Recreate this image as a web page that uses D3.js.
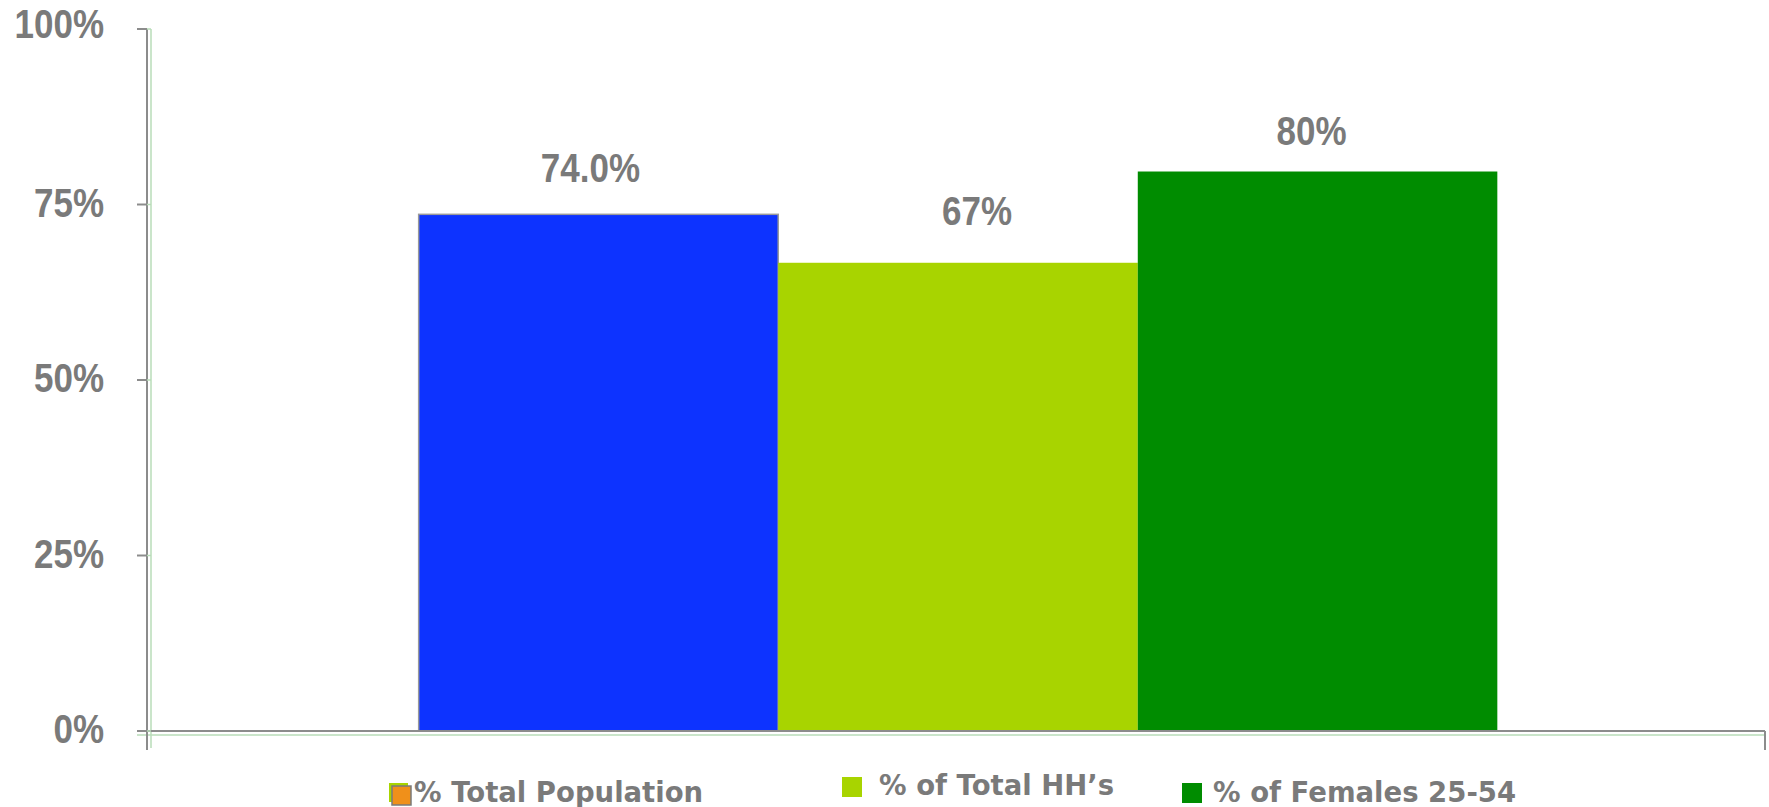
<!DOCTYPE html>
<html>
<head>
<meta charset="utf-8">
<script src="https://cdn.jsdelivr.net/npm/d3@7"></script>
<style>
  body { margin: 0; background: #fff; }
  .tick-label, .value-label { font-family: "Liberation Sans", Arial, sans-serif; font-weight: bold; fill: #7a7a7a; }
  .legend text { font-family: "DejaVu Sans", Verdana, sans-serif; font-weight: bold; fill: #7a7a7a; font-size: 27.5px; }
</style>
</head>
<body>
<svg width="1769" height="807"></svg>
<script>
const category = "All";
const seriesNames = ["% Total Population", "% of Total HH\u2019s", "% of Females 25-54"];
const seriesValues = [0.736, 0.667, 0.797];
const valueLabels = ["74.0%", "67%", "80%"];
const seriesColors = ["#0d33ff", "#a8d400", "#008c00"];
const yTicks = [0, 0.25, 0.5, 0.75, 1];

const svg = d3.select("svg");
const margin = { top: 29, left: 147, right: 4, bottom: 76 };
const W = +svg.attr("width"), H = +svg.attr("height");
const axisGray = "#8c8c8c";
const axisGreen = "#b9dcb9";
const stretch = 1.15;

// labels in the original sit a little off the bar centres
const labelNudge = [[-8, 0], [19, -6], [-6, 5]];

const y = d3.scaleLinear()
  .domain([0, 1])
  .range([H - margin.bottom, margin.top]);

const x0 = d3.scaleBand()
  .domain([category])
  .range([margin.left + 2, W - margin.right + 2])
  .paddingOuter(0.25);

const x1 = d3.scaleBand()
  .domain(seriesNames)
  .range([0, x0.bandwidth()]);

const data = seriesNames.map((name, i) => ({ name, value: seriesValues[i], label: valueLabels[i], color: seriesColors[i] }));

// bars
const bars = svg.append("g")
  .attr("transform", `translate(${x0(category)},0)`);

bars.selectAll("rect")
  .data(data)
  .enter().append("rect")
    .attr("x", d => x1(d.name))
    .attr("y", d => y(d.value))
    .attr("width", x1.bandwidth())
    .attr("height", d => y(0) - y(d.value))
    .attr("fill", d => d.color)
    .attr("stroke", (d, i) => i === 0 ? "#9a9a9a" : "none")
    .attr("stroke-width", 1.5);

bars.selectAll("g.value")
  .data(data)
  .enter().append("g")
    .attr("class", "value")
    .attr("transform", (d, i) => `translate(${x1(d.name) + x1.bandwidth() / 2 + labelNudge[i][0]},${y(d.value) - 32 + labelNudge[i][1]})`)
  .append("text")
    .attr("class", "value-label")
    .attr("text-anchor", "middle")
    .attr("font-size", 35)
    .attr("transform", `scale(1,${stretch})`)
    .text(d => d.label);

// axes
const x0px = margin.left;
const xEnd = W - margin.right;
const bottom = y(0);

const axes = svg.append("g");
// green shadow lines
axes.append("line")
  .attr("x1", x0px + 4).attr("x2", x0px + 4)
  .attr("y1", y(1)).attr("y2", bottom + 17)
  .attr("stroke", axisGreen).attr("stroke-width", 1.5);
axes.append("line")
  .attr("x1", x0px - 10).attr("x2", xEnd)
  .attr("y1", bottom + 4).attr("y2", bottom + 4)
  .attr("stroke", axisGreen).attr("stroke-width", 1.5);
// gray axis lines
axes.append("line")
  .attr("x1", x0px).attr("x2", x0px)
  .attr("y1", y(1)).attr("y2", bottom + 19)
  .attr("stroke", axisGray).attr("stroke-width", 2);
axes.append("line")
  .attr("x1", x0px - 10).attr("x2", xEnd)
  .attr("y1", bottom).attr("y2", bottom)
  .attr("stroke", axisGray).attr("stroke-width", 2);
axes.append("line")
  .attr("x1", xEnd).attr("x2", xEnd)
  .attr("y1", bottom).attr("y2", bottom + 19)
  .attr("stroke", axisGray).attr("stroke-width", 2);

const tick = axes.selectAll("g.tick")
  .data(yTicks)
  .enter().append("g")
    .attr("class", "tick")
    .attr("transform", d => `translate(0,${y(d)})`);

tick.append("line")
  .attr("x1", x0px - 10).attr("x2", x0px)
  .attr("stroke", axisGray).attr("stroke-width", 2);
tick.append("line")
  .attr("x1", x0px).attr("x2", x0px + 4)
  .attr("stroke", axisGreen).attr("stroke-width", 1.5);

tick.append("g")
    .attr("transform", d => `translate(104,${d === 1 ? 9 : 12})`)
  .append("text")
    .attr("class", "tick-label")
    .attr("text-anchor", "end")
    .attr("font-size", 35)
    .attr("transform", `scale(1,${stretch})`)
    .text(d => d3.format(".0%")(d));

// legend
const legend = svg.append("g").attr("class", "legend");
const legendPos = [
  { sx: 392, sy: 786, tx: 414, ty: 802 },
  { sx: 842, sy: 777, tx: 879, ty: 795 },
  { sx: 1182, sy: 783, tx: 1213, ty: 802 }
];

// first swatch is the odd orange box over a green square
legend.append("rect")
  .attr("x", legendPos[0].sx - 3).attr("y", legendPos[0].sy - 3)
  .attr("width", 19).attr("height", 19)
  .attr("fill", "#a8d400");
legend.append("rect")
  .attr("x", legendPos[0].sx).attr("y", legendPos[0].sy)
  .attr("width", 19).attr("height", 19)
  .attr("fill", "#f0901a").attr("stroke", "#7a7a7a").attr("stroke-width", 1.5);

data.forEach((d, i) => {
  const p = legendPos[i];
  if (i > 0) {
    legend.append("rect")
      .attr("x", p.sx).attr("y", p.sy)
      .attr("width", 20).attr("height", 20)
      .attr("fill", d.color);
  }
  legend.append("text")
    .attr("x", p.tx).attr("y", p.ty)
    .text(d.name);
});
</script>
</body>
</html>
